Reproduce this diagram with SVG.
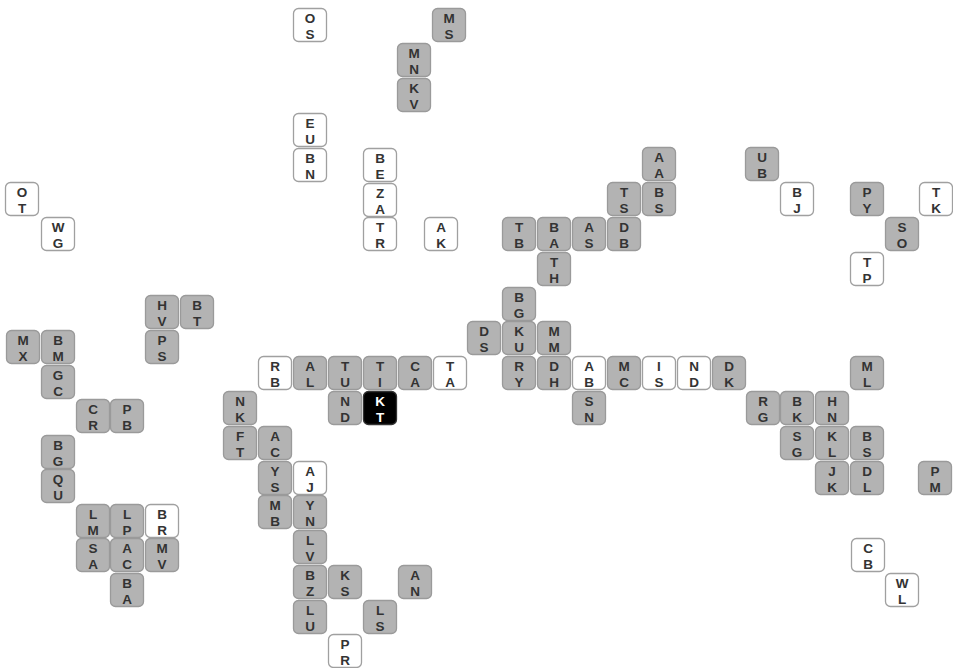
<svg xmlns="http://www.w3.org/2000/svg" width="953" height="668" viewBox="0 0 953 668">
<style>
rect{stroke-width:1.3;rx:5;ry:5;width:33px;height:33px}
.g rect{fill:#b3b3b3;stroke:#9a9a9a}
.w rect{fill:#ffffff;stroke:#a0a0a0}
.k rect{fill:#000000;stroke:#333333}
text{font-family:"Liberation Sans",Arial,sans-serif;font-size:13.5px;font-weight:bold;text-anchor:middle;fill:#333333}
.k text{fill:#ffffff}
</style>
<rect x="0" y="0" width="953" height="668" style="fill:#fff;stroke:none;width:953px;height:668px;rx:0"/>
<g id="connectors"/>
<g id="tiles">
<g id="t1" class="w" transform="translate(293,8)"><rect x="0.5" y="0.5"/><text><tspan x="17" y="14.5">O</tspan><tspan x="17" y="30.5">S</tspan></text></g>
<g id="t2" class="g" transform="translate(432,8)"><rect x="0.5" y="0.5"/><text><tspan x="17" y="14.5">M</tspan><tspan x="17" y="30.5">S</tspan></text></g>
<g id="t3" class="g" transform="translate(397,43)"><rect x="0.5" y="0.5"/><text><tspan x="17" y="14.5">M</tspan><tspan x="17" y="30.5">N</tspan></text></g>
<g id="t4" class="g" transform="translate(397,78)"><rect x="0.5" y="0.5"/><text><tspan x="17" y="14.5">K</tspan><tspan x="17" y="30.5">V</tspan></text></g>
<g id="t5" class="w" transform="translate(293,113)"><rect x="0.5" y="0.5"/><text><tspan x="17" y="14.5">E</tspan><tspan x="17" y="30.5">U</tspan></text></g>
<g id="t6" class="w" transform="translate(293,148)"><rect x="0.5" y="0.5"/><text><tspan x="17" y="14.5">B</tspan><tspan x="17" y="30.5">N</tspan></text></g>
<g id="t7" class="w" transform="translate(363,148)"><rect x="0.5" y="0.5"/><text><tspan x="17" y="14.5">B</tspan><tspan x="17" y="30.5">E</tspan></text></g>
<g id="t8" class="w" transform="translate(363,183)"><rect x="0.5" y="0.5"/><text><tspan x="17" y="14.5">Z</tspan><tspan x="17" y="30.5">A</tspan></text></g>
<g id="t9" class="w" transform="translate(363,217)"><rect x="0.5" y="0.5"/><text><tspan x="17" y="14.5">T</tspan><tspan x="17" y="30.5">R</tspan></text></g>
<g id="t10" class="w" transform="translate(424,217)"><rect x="0.5" y="0.5"/><text><tspan x="17" y="14.5">A</tspan><tspan x="17" y="30.5">K</tspan></text></g>
<g id="t11" class="w" transform="translate(5,182)"><rect x="0.5" y="0.5"/><text><tspan x="17" y="14.5">O</tspan><tspan x="17" y="30.5">T</tspan></text></g>
<g id="t12" class="w" transform="translate(41,217)"><rect x="0.5" y="0.5"/><text><tspan x="17" y="14.5">W</tspan><tspan x="17" y="30.5">G</tspan></text></g>
<g id="t13" class="g" transform="translate(642,147)"><rect x="0.5" y="0.5"/><text><tspan x="17" y="14.5">A</tspan><tspan x="17" y="30.5">A</tspan></text></g>
<g id="t14" class="g" transform="translate(642,182)"><rect x="0.5" y="0.5"/><text><tspan x="17" y="14.5">B</tspan><tspan x="17" y="30.5">S</tspan></text></g>
<g id="t15" class="g" transform="translate(607,182)"><rect x="0.5" y="0.5"/><text><tspan x="17" y="14.5">T</tspan><tspan x="17" y="30.5">S</tspan></text></g>
<g id="t16" class="g" transform="translate(607,217)"><rect x="0.5" y="0.5"/><text><tspan x="17" y="14.5">D</tspan><tspan x="17" y="30.5">B</tspan></text></g>
<g id="t17" class="g" transform="translate(572,217)"><rect x="0.5" y="0.5"/><text><tspan x="17" y="14.5">A</tspan><tspan x="17" y="30.5">S</tspan></text></g>
<g id="t18" class="g" transform="translate(537,217)"><rect x="0.5" y="0.5"/><text><tspan x="17" y="14.5">B</tspan><tspan x="17" y="30.5">A</tspan></text></g>
<g id="t19" class="g" transform="translate(502,217)"><rect x="0.5" y="0.5"/><text><tspan x="17" y="14.5">T</tspan><tspan x="17" y="30.5">B</tspan></text></g>
<g id="t20" class="g" transform="translate(537,252)"><rect x="0.5" y="0.5"/><text><tspan x="17" y="14.5">T</tspan><tspan x="17" y="30.5">H</tspan></text></g>
<g id="t21" class="g" transform="translate(502,287)"><rect x="0.5" y="0.5"/><text><tspan x="17" y="14.5">B</tspan><tspan x="17" y="30.5">G</tspan></text></g>
<g id="t22" class="g" transform="translate(745,147)"><rect x="0.5" y="0.5"/><text><tspan x="17" y="14.5">U</tspan><tspan x="17" y="30.5">B</tspan></text></g>
<g id="t23" class="w" transform="translate(780,182)"><rect x="0.5" y="0.5"/><text><tspan x="17" y="14.5">B</tspan><tspan x="17" y="30.5">J</tspan></text></g>
<g id="t24" class="g" transform="translate(850,182)"><rect x="0.5" y="0.5"/><text><tspan x="17" y="14.5">P</tspan><tspan x="17" y="30.5">Y</tspan></text></g>
<g id="t25" class="w" transform="translate(919,182)"><rect x="0.5" y="0.5"/><text><tspan x="17" y="14.5">T</tspan><tspan x="17" y="30.5">K</tspan></text></g>
<g id="t26" class="g" transform="translate(885,217)"><rect x="0.5" y="0.5"/><text><tspan x="17" y="14.5">S</tspan><tspan x="17" y="30.5">O</tspan></text></g>
<g id="t27" class="w" transform="translate(850,252)"><rect x="0.5" y="0.5"/><text><tspan x="17" y="14.5">T</tspan><tspan x="17" y="30.5">P</tspan></text></g>
<g id="t28" class="g" transform="translate(145,295)"><rect x="0.5" y="0.5"/><text><tspan x="17" y="14.5">H</tspan><tspan x="17" y="30.5">V</tspan></text></g>
<g id="t29" class="g" transform="translate(180,295)"><rect x="0.5" y="0.5"/><text><tspan x="17" y="14.5">B</tspan><tspan x="17" y="30.5">T</tspan></text></g>
<g id="t30" class="g" transform="translate(145,330)"><rect x="0.5" y="0.5"/><text><tspan x="17" y="14.5">P</tspan><tspan x="17" y="30.5">S</tspan></text></g>
<g id="t31" class="g" transform="translate(6,330)"><rect x="0.5" y="0.5"/><text><tspan x="17" y="14.5">M</tspan><tspan x="17" y="30.5">X</tspan></text></g>
<g id="t32" class="g" transform="translate(41,330)"><rect x="0.5" y="0.5"/><text><tspan x="17" y="14.5">B</tspan><tspan x="17" y="30.5">M</tspan></text></g>
<g id="t33" class="g" transform="translate(41,365)"><rect x="0.5" y="0.5"/><text><tspan x="17" y="14.5">G</tspan><tspan x="17" y="30.5">C</tspan></text></g>
<g id="t34" class="g" transform="translate(76,399)"><rect x="0.5" y="0.5"/><text><tspan x="17" y="14.5">C</tspan><tspan x="17" y="30.5">R</tspan></text></g>
<g id="t35" class="g" transform="translate(110,399)"><rect x="0.5" y="0.5"/><text><tspan x="17" y="14.5">P</tspan><tspan x="17" y="30.5">B</tspan></text></g>
<g id="t36" class="g" transform="translate(41,435)"><rect x="0.5" y="0.5"/><text><tspan x="17" y="14.5">B</tspan><tspan x="17" y="30.5">G</tspan></text></g>
<g id="t37" class="g" transform="translate(41,469)"><rect x="0.5" y="0.5"/><text><tspan x="17" y="14.5">Q</tspan><tspan x="17" y="30.5">U</tspan></text></g>
<g id="t38" class="g" transform="translate(76,504)"><rect x="0.5" y="0.5"/><text><tspan x="17" y="14.5">L</tspan><tspan x="17" y="30.5">M</tspan></text></g>
<g id="t39" class="g" transform="translate(110,504)"><rect x="0.5" y="0.5"/><text><tspan x="17" y="14.5">L</tspan><tspan x="17" y="30.5">P</tspan></text></g>
<g id="t40" class="w" transform="translate(145,504)"><rect x="0.5" y="0.5"/><text><tspan x="17" y="14.5">B</tspan><tspan x="17" y="30.5">R</tspan></text></g>
<g id="t41" class="g" transform="translate(76,538)"><rect x="0.5" y="0.5"/><text><tspan x="17" y="14.5">S</tspan><tspan x="17" y="30.5">A</tspan></text></g>
<g id="t42" class="g" transform="translate(110,538)"><rect x="0.5" y="0.5"/><text><tspan x="17" y="14.5">A</tspan><tspan x="17" y="30.5">C</tspan></text></g>
<g id="t43" class="g" transform="translate(145,538)"><rect x="0.5" y="0.5"/><text><tspan x="17" y="14.5">M</tspan><tspan x="17" y="30.5">V</tspan></text></g>
<g id="t44" class="g" transform="translate(110,573)"><rect x="0.5" y="0.5"/><text><tspan x="17" y="14.5">B</tspan><tspan x="17" y="30.5">A</tspan></text></g>
<g id="t45" class="w" transform="translate(258,356)"><rect x="0.5" y="0.5"/><text><tspan x="17" y="14.5">R</tspan><tspan x="17" y="30.5">B</tspan></text></g>
<g id="t46" class="g" transform="translate(293,356)"><rect x="0.5" y="0.5"/><text><tspan x="17" y="14.5">A</tspan><tspan x="17" y="30.5">L</tspan></text></g>
<g id="t47" class="g" transform="translate(328,356)"><rect x="0.5" y="0.5"/><text><tspan x="17" y="14.5">T</tspan><tspan x="17" y="30.5">U</tspan></text></g>
<g id="t48" class="g" transform="translate(363,356)"><rect x="0.5" y="0.5"/><text><tspan x="17" y="14.5">T</tspan><tspan x="17" y="30.5">I</tspan></text></g>
<g id="t49" class="g" transform="translate(398,356)"><rect x="0.5" y="0.5"/><text><tspan x="17" y="14.5">C</tspan><tspan x="17" y="30.5">A</tspan></text></g>
<g id="t50" class="w" transform="translate(433,356)"><rect x="0.5" y="0.5"/><text><tspan x="17" y="14.5">T</tspan><tspan x="17" y="30.5">A</tspan></text></g>
<g id="t51" class="g" transform="translate(328,391)"><rect x="0.5" y="0.5"/><text><tspan x="17" y="14.5">N</tspan><tspan x="17" y="30.5">D</tspan></text></g>
<g id="t52" class="k" transform="translate(363,391)"><rect x="0.5" y="0.5"/><text><tspan x="17" y="14.5">K</tspan><tspan x="17" y="30.5">T</tspan></text></g>
<g id="t53" class="g" transform="translate(223,391)"><rect x="0.5" y="0.5"/><text><tspan x="17" y="14.5">N</tspan><tspan x="17" y="30.5">K</tspan></text></g>
<g id="t54" class="g" transform="translate(223,426)"><rect x="0.5" y="0.5"/><text><tspan x="17" y="14.5">F</tspan><tspan x="17" y="30.5">T</tspan></text></g>
<g id="t55" class="g" transform="translate(258,426)"><rect x="0.5" y="0.5"/><text><tspan x="17" y="14.5">A</tspan><tspan x="17" y="30.5">C</tspan></text></g>
<g id="t56" class="g" transform="translate(258,461)"><rect x="0.5" y="0.5"/><text><tspan x="17" y="14.5">Y</tspan><tspan x="17" y="30.5">S</tspan></text></g>
<g id="t57" class="w" transform="translate(293,461)"><rect x="0.5" y="0.5"/><text><tspan x="17" y="14.5">A</tspan><tspan x="17" y="30.5">J</tspan></text></g>
<g id="t58" class="g" transform="translate(258,495)"><rect x="0.5" y="0.5"/><text><tspan x="17" y="14.5">M</tspan><tspan x="17" y="30.5">B</tspan></text></g>
<g id="t59" class="g" transform="translate(293,495)"><rect x="0.5" y="0.5"/><text><tspan x="17" y="14.5">Y</tspan><tspan x="17" y="30.5">N</tspan></text></g>
<g id="t60" class="g" transform="translate(293,530)"><rect x="0.5" y="0.5"/><text><tspan x="17" y="14.5">L</tspan><tspan x="17" y="30.5">V</tspan></text></g>
<g id="t61" class="g" transform="translate(293,565)"><rect x="0.5" y="0.5"/><text><tspan x="17" y="14.5">B</tspan><tspan x="17" y="30.5">Z</tspan></text></g>
<g id="t62" class="g" transform="translate(328,565)"><rect x="0.5" y="0.5"/><text><tspan x="17" y="14.5">K</tspan><tspan x="17" y="30.5">S</tspan></text></g>
<g id="t63" class="g" transform="translate(398,565)"><rect x="0.5" y="0.5"/><text><tspan x="17" y="14.5">A</tspan><tspan x="17" y="30.5">N</tspan></text></g>
<g id="t64" class="g" transform="translate(293,600)"><rect x="0.5" y="0.5"/><text><tspan x="17" y="14.5">L</tspan><tspan x="17" y="30.5">U</tspan></text></g>
<g id="t65" class="g" transform="translate(363,600)"><rect x="0.5" y="0.5"/><text><tspan x="17" y="14.5">L</tspan><tspan x="17" y="30.5">S</tspan></text></g>
<g id="t66" class="w" transform="translate(328,634)"><rect x="0.5" y="0.5"/><text><tspan x="17" y="14.5">P</tspan><tspan x="17" y="30.5">R</tspan></text></g>
<g id="t67" class="g" transform="translate(467,321)"><rect x="0.5" y="0.5"/><text><tspan x="17" y="14.5">D</tspan><tspan x="17" y="30.5">S</tspan></text></g>
<g id="t68" class="g" transform="translate(502,321)"><rect x="0.5" y="0.5"/><text><tspan x="17" y="14.5">K</tspan><tspan x="17" y="30.5">U</tspan></text></g>
<g id="t69" class="g" transform="translate(537,321)"><rect x="0.5" y="0.5"/><text><tspan x="17" y="14.5">M</tspan><tspan x="17" y="30.5">M</tspan></text></g>
<g id="t70" class="g" transform="translate(502,356)"><rect x="0.5" y="0.5"/><text><tspan x="17" y="14.5">R</tspan><tspan x="17" y="30.5">Y</tspan></text></g>
<g id="t71" class="g" transform="translate(537,356)"><rect x="0.5" y="0.5"/><text><tspan x="17" y="14.5">D</tspan><tspan x="17" y="30.5">H</tspan></text></g>
<g id="t72" class="w" transform="translate(572,356)"><rect x="0.5" y="0.5"/><text><tspan x="17" y="14.5">A</tspan><tspan x="17" y="30.5">B</tspan></text></g>
<g id="t73" class="g" transform="translate(607,356)"><rect x="0.5" y="0.5"/><text><tspan x="17" y="14.5">M</tspan><tspan x="17" y="30.5">C</tspan></text></g>
<g id="t74" class="w" transform="translate(642,356)"><rect x="0.5" y="0.5"/><text><tspan x="17" y="14.5">I</tspan><tspan x="17" y="30.5">S</tspan></text></g>
<g id="t75" class="w" transform="translate(677,356)"><rect x="0.5" y="0.5"/><text><tspan x="17" y="14.5">N</tspan><tspan x="17" y="30.5">D</tspan></text></g>
<g id="t76" class="g" transform="translate(712,356)"><rect x="0.5" y="0.5"/><text><tspan x="17" y="14.5">D</tspan><tspan x="17" y="30.5">K</tspan></text></g>
<g id="t77" class="g" transform="translate(572,391)"><rect x="0.5" y="0.5"/><text><tspan x="17" y="14.5">S</tspan><tspan x="17" y="30.5">N</tspan></text></g>
<g id="t78" class="g" transform="translate(746,391)"><rect x="0.5" y="0.5"/><text><tspan x="17" y="14.5">R</tspan><tspan x="17" y="30.5">G</tspan></text></g>
<g id="t79" class="g" transform="translate(780,391)"><rect x="0.5" y="0.5"/><text><tspan x="17" y="14.5">B</tspan><tspan x="17" y="30.5">K</tspan></text></g>
<g id="t80" class="g" transform="translate(815,391)"><rect x="0.5" y="0.5"/><text><tspan x="17" y="14.5">H</tspan><tspan x="17" y="30.5">N</tspan></text></g>
<g id="t81" class="g" transform="translate(850,356)"><rect x="0.5" y="0.5"/><text><tspan x="17" y="14.5">M</tspan><tspan x="17" y="30.5">L</tspan></text></g>
<g id="t82" class="g" transform="translate(780,426)"><rect x="0.5" y="0.5"/><text><tspan x="17" y="14.5">S</tspan><tspan x="17" y="30.5">G</tspan></text></g>
<g id="t83" class="g" transform="translate(815,426)"><rect x="0.5" y="0.5"/><text><tspan x="17" y="14.5">K</tspan><tspan x="17" y="30.5">L</tspan></text></g>
<g id="t84" class="g" transform="translate(850,426)"><rect x="0.5" y="0.5"/><text><tspan x="17" y="14.5">B</tspan><tspan x="17" y="30.5">S</tspan></text></g>
<g id="t85" class="g" transform="translate(815,461)"><rect x="0.5" y="0.5"/><text><tspan x="17" y="14.5">J</tspan><tspan x="17" y="30.5">K</tspan></text></g>
<g id="t86" class="g" transform="translate(850,461)"><rect x="0.5" y="0.5"/><text><tspan x="17" y="14.5">D</tspan><tspan x="17" y="30.5">L</tspan></text></g>
<g id="t87" class="g" transform="translate(918,461)"><rect x="0.5" y="0.5"/><text><tspan x="17" y="14.5">P</tspan><tspan x="17" y="30.5">M</tspan></text></g>
<g id="t88" class="w" transform="translate(851,538)"><rect x="0.5" y="0.5"/><text><tspan x="17" y="14.5">C</tspan><tspan x="17" y="30.5">B</tspan></text></g>
<g id="t89" class="w" transform="translate(885,573)"><rect x="0.5" y="0.5"/><text><tspan x="17" y="14.5">W</tspan><tspan x="17" y="30.5">L</tspan></text></g>
</g>
</svg>
